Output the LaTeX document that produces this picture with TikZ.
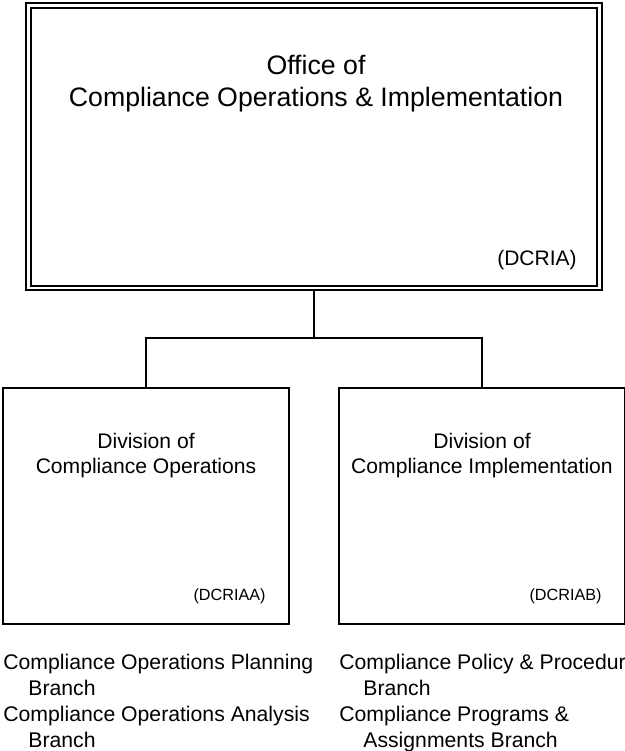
\documentclass[tikz,border=0pt]{standalone}
\usepackage{fontspec}
\setmainfont{Liberation Sans}
\usetikzlibrary{positioning,calc}
\tikzset{
  myline/.style = {line width=1pt},
  officebox/.style = {rectangle, draw, double, double distance=1.4pt, line width=1pt, inner sep=0pt, minimum width=285.5pt, minimum height=141.25pt},
  divbox/.style = {rectangle, draw, line width=1pt, inner sep=0pt, minimum width=143pt, minimum height=118pt},
  bigtitle/.style = {align=center, inner sep=0pt, font=\fontsize{13.35}{16}\selectfont},
  divtitle/.style = {align=center, inner sep=0pt, font=\fontsize{10.55}{12.5}\selectfont},
  bigcode/.style = {inner sep=0pt, font=\fontsize{10.5}{12.5}\selectfont},
  divcode/.style = {inner sep=0pt, font=\fontsize{8.1}{10}\selectfont},
  mybranch/.style = {align=left, inner sep=0pt, font=\fontsize{10.6}{13}\selectfont},
}

\begin{document}
\begin{tikzpicture}[x=0.5pt, y=-0.5pt]
\useasboundingbox (0,0) rectangle (625,751);
\node[officebox] (office) at (314,146.75) {};
\node[bigtitle, anchor=base] (officetitle) at (316,106) {Office of\\Compliance Operations \& Implementation};
\node[bigcode, anchor=base east] (officecode) at (577,265) {(DCRIA)};
\node[divbox] (opsdiv) at (146,506) {};
\node[divbox] (impdiv) at (482,506) {};
\node[divtitle, anchor=base] (opstitle) at (146,473) {Division of\\Compliance Operations};
\node[divtitle, anchor=base] (imptitle) at (482,473) {Division of\\Compliance Implementation};
\node[divcode, anchor=base east] (opscode) at (266,600) {(DCRIAA)};
\node[divcode, anchor=base east] (impcode) at (602,600) {(DCRIAB)};
\coordinate (junction) at (314,338);
\draw[myline] (office.south) -- (junction);
\draw[myline] (junction) -| (opsdiv.north);
\draw[myline] (junction) -| (impdiv.north);
% branches
\node[mybranch, anchor=base west] (planbr) at (3,695) {Compliance Operations Planning\\\hspace*{12.5pt}Branch};
\node[mybranch, anchor=base west] (analbr) at (3,747) {Compliance Operations Analysis\\\hspace*{12.5pt}Branch};
\node[mybranch, anchor=base west] (polbr) at (339,695) {Compliance Policy \& Procedur\\\hspace*{12pt}Branch};
\node[mybranch, anchor=base west] (progbr) at (339,747) {Compliance Programs \&\\\hspace*{12pt}Assignments Branch};
\end{tikzpicture}
\end{document}
